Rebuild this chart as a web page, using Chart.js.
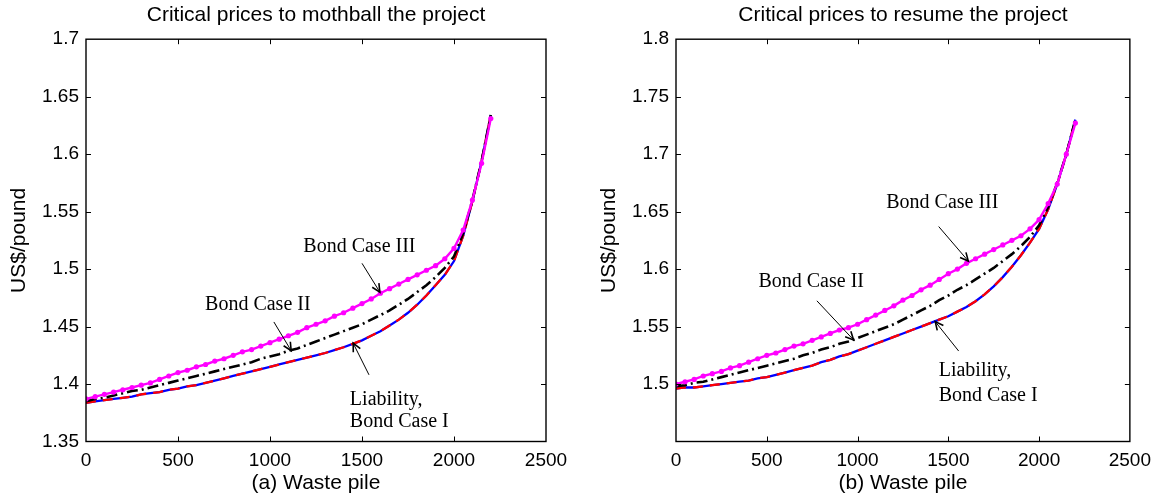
<!DOCTYPE html>
<html>
<head>
<meta charset="utf-8">
<script src="https://cdn.jsdelivr.net/npm/chart.js@4.4.1/dist/chart.umd.min.js"></script>
<style>
  body { margin: 0; background: #fff; }
  #wrap { position: relative; width: 1159px; height: 500px; }
  .box { position: absolute; top: 0; height: 500px; }
</style>
</head>
<body>
<div id="wrap">
  <div class="box" style="left:0;width:580px"><canvas id="mothball"></canvas></div>
  <div class="box" style="left:580px;width:579px"><canvas id="resume"></canvas></div>
</div>
<script>
// waste pile (x values, every 50)
const wastePile = [0, 50, 100, 150, 200, 250, 300, 350, 400, 450, 500, 550, 600, 650, 700, 750, 800, 850, 900, 950,
  1000, 1050, 1100, 1150, 1200, 1250, 1300, 1350, 1400, 1450, 1500, 1550, 1600, 1650, 1700, 1750, 1800, 1850, 1900, 1950,
  2000, 2050, 2100, 2150, 2200];

// (a) critical prices to mothball
const mothballLiability = [1.3835, 1.385, 1.386, 1.387, 1.388, 1.389, 1.391, 1.392, 1.393, 1.395, 1.396, 1.398, 1.399, 1.401, 1.403, 1.405, 1.407, 1.409, 1.411, 1.413,
  1.415, 1.417, 1.419, 1.421, 1.423, 1.425, 1.427, 1.4295, 1.432, 1.435, 1.438, 1.442, 1.446, 1.451, 1.456, 1.462, 1.469, 1.477, 1.486, 1.495,
  1.507, 1.529, 1.559, 1.594, 1.634];
const mothballBondI = mothballLiability;
const mothballBondII = [1.385, 1.387, 1.388, 1.390, 1.392, 1.394, 1.395, 1.397, 1.399, 1.401, 1.403, 1.405, 1.407, 1.409, 1.411, 1.413, 1.415, 1.417, 1.419, 1.422,
  1.424, 1.426, 1.429, 1.431, 1.434, 1.437, 1.440, 1.443, 1.446, 1.449, 1.452, 1.456, 1.460, 1.464, 1.469, 1.474, 1.480, 1.486, 1.493, 1.501,
  1.511, 1.531, 1.560, 1.594, 1.634];
const mothballBondIII = [1.387, 1.389, 1.391, 1.393, 1.395, 1.397, 1.399, 1.401, 1.404, 1.407, 1.410, 1.412, 1.415, 1.417, 1.420, 1.422, 1.425, 1.428, 1.430, 1.433,
  1.436, 1.439, 1.442, 1.445, 1.449, 1.452, 1.455, 1.459, 1.462, 1.466, 1.470, 1.474, 1.479, 1.483, 1.487, 1.491, 1.495, 1.499, 1.503, 1.509,
  1.518, 1.534, 1.560, 1.592, 1.631];

// (b) critical prices to resume
const resumeLiability = [1.496, 1.497, 1.497, 1.498, 1.499, 1.500, 1.501, 1.502, 1.503, 1.505, 1.506, 1.508, 1.510, 1.512, 1.514, 1.516, 1.519, 1.521, 1.524, 1.526,
  1.529, 1.532, 1.535, 1.538, 1.541, 1.544, 1.547, 1.550, 1.553, 1.556, 1.559, 1.563, 1.567, 1.572, 1.578, 1.585, 1.593, 1.602, 1.612, 1.623,
  1.635, 1.652, 1.674, 1.700, 1.730];
const resumeBondI = resumeLiability;
const resumeBondII = [1.498, 1.499, 1.501, 1.502, 1.504, 1.506, 1.508, 1.510, 1.512, 1.514, 1.516, 1.518, 1.520, 1.522, 1.525, 1.527, 1.530, 1.532, 1.535, 1.537,
  1.540, 1.543, 1.546, 1.549, 1.552, 1.556, 1.560, 1.564, 1.568, 1.573, 1.577, 1.582, 1.586, 1.591, 1.596, 1.601, 1.607, 1.613, 1.620, 1.628,
  1.638, 1.654, 1.675, 1.700, 1.730];
const resumeBondIII = [1.500, 1.502, 1.504, 1.507, 1.509, 1.511, 1.514, 1.516, 1.519, 1.522, 1.525, 1.527, 1.530, 1.533, 1.535, 1.538, 1.541, 1.544, 1.547, 1.549,
  1.552, 1.556, 1.560, 1.564, 1.568, 1.573, 1.577, 1.582, 1.586, 1.591, 1.596, 1.600, 1.605, 1.609, 1.613, 1.617, 1.621, 1.625, 1.629, 1.635,
  1.643, 1.657, 1.674, 1.700, 1.727];

// tick labels
const xTickLabels = ['0', '500', '1000', '1500', '2000', '2500'];
const yTicksMothball = ['1.35', '1.4', '1.45', '1.5', '1.55', '1.6', '1.65', '1.7'];
const yTicksResume = ['', '1.5', '1.55', '1.6', '1.65', '1.7', '1.75', '1.8'];

Chart.defaults.font.family = '"Liberation Sans", Arial, sans-serif';
Chart.defaults.color = '#000';

function pts(ys) {
  return wastePile.map((x, i) => ({x: x, y: ys[i]}));
}

// frame with inward ticks + text/arrow notes
const matlabBox = {
  id: 'matlabBox',
  afterDraw(chart, args, opts) {
    const {ctx, chartArea: a, scales} = chart;
    const xs = scales.x, ys = scales.y;
    ctx.save();
    ctx.strokeStyle = '#000';
    ctx.lineWidth = 1.4;
    ctx.strokeRect(a.left, a.top, a.right - a.left, a.bottom - a.top);
    ctx.lineWidth = 1;
    ctx.beginPath();
    xs.ticks.forEach(t => {
      const px = Math.round(xs.getPixelForValue(t.value)) + 0.5;
      if (px <= a.left + 1 || px >= a.right - 1) return;
      ctx.moveTo(px, a.bottom); ctx.lineTo(px, a.bottom - 5);
      ctx.moveTo(px, a.top); ctx.lineTo(px, a.top + 5);
    });
    ys.ticks.forEach(t => {
      const py = Math.round(ys.getPixelForValue(t.value)) + 0.5;
      if (py <= a.top + 1 || py >= a.bottom - 1) return;
      ctx.moveTo(a.left, py); ctx.lineTo(a.left + 5, py);
      ctx.moveTo(a.right, py); ctx.lineTo(a.right - 5, py);
    });
    ctx.stroke();

    // notes
    ctx.fillStyle = '#000';
    ctx.font = '20px "Liberation Serif", "Times New Roman", serif';
    ctx.textAlign = 'left';
    ctx.textBaseline = 'middle';
    (opts.notes || []).forEach(n => {
      ctx.fillText(n.text, xs.getPixelForValue(n.x), ys.getPixelForValue(n.y));
    });
    (opts.arrows || []).forEach(ar => {
      const x0 = xs.getPixelForValue(ar.from[0]), y0 = ys.getPixelForValue(ar.from[1]);
      const x1 = xs.getPixelForValue(ar.to[0]), y1 = ys.getPixelForValue(ar.to[1]);
      const ang = Math.atan2(y1 - y0, x1 - x0);
      ctx.lineWidth = 1;
      ctx.beginPath();
      ctx.moveTo(x0, y0); ctx.lineTo(x1, y1);
      ctx.stroke();
      ctx.lineWidth = 1.6;
      ctx.beginPath();
      ctx.moveTo(x1 - 9 * Math.cos(ang - 0.45), y1 - 9 * Math.sin(ang - 0.45));
      ctx.lineTo(x1, y1);
      ctx.lineTo(x1 - 9 * Math.cos(ang + 0.45), y1 - 9 * Math.sin(ang + 0.45));
      ctx.stroke();
    });
    ctx.restore();
  }
};

function makeChart(id, cfg) {
  return new Chart(document.getElementById(id), {
    type: 'line',
    data: {
      datasets: [
        {label: 'Bond Case III', data: pts(cfg.bondIII), borderColor: '#ff00ff', backgroundColor: '#ff00ff',
          borderWidth: 2.4, pointRadius: 2.6, pointBorderWidth: 0, pointBackgroundColor: '#ff00ff'},
        {label: 'Bond Case II', data: pts(cfg.bondII), borderColor: '#000', borderWidth: 2.6,
          borderDash: [11, 4, 2, 4], pointRadius: 0},
        {label: 'Bond Case I', data: pts(cfg.bondI), borderColor: '#ff0000', borderWidth: 2.3,
          borderDash: [10, 7], pointRadius: 0},
        {label: 'Liability', data: pts(cfg.liability), borderColor: '#0000ff', borderWidth: 2.3, pointRadius: 0}
      ]
    },
    options: {
      responsive: true,
      maintainAspectRatio: false,
      animation: false,
      layout: {padding: {left: 0, right: cfg.padRight, top: 0, bottom: 0}},
      plugins: {
        legend: {display: false},
        tooltip: {enabled: false},
        title: {display: true, text: cfg.title, fullSize: false, color: '#000',
          font: {size: 21, weight: 'normal'}, padding: {top: 3, bottom: 11}},
        matlabBox: {notes: cfg.notes, arrows: cfg.arrows}
      },
      scales: {
        x: {
          type: 'linear', min: 0, max: 2500,
          afterFit: s => { s.height = 58.5; },
          grid: {display: false, drawTicks: false},
          border: {display: false},
          ticks: {stepSize: 500, padding: 8, font: {size: 19}, maxRotation: 0,
            callback: (v, i) => xTickLabels[i]},
          title: {display: true, text: cfg.xTitle, font: {size: 21}, padding: {top: 0, bottom: 4}}
        },
        y: {
          type: 'linear', min: cfg.yMin, max: cfg.yMax,
          afterFit: s => { s.width = cfg.yWidth; },
          grid: {display: false, drawTicks: false},
          border: {display: false},
          ticks: {stepSize: 0.05, padding: 7, font: {size: 19},
            callback: (v, i) => cfg.yLabels[i]},
          title: {display: true, text: 'US$/pound', font: {size: 21}, padding: {top: cfg.yTitlePad, bottom: 0}}
        }
      }
    },
    plugins: [matlabBox]
  });
}

makeChart('mothball', {
  title: 'Critical prices to mothball the project',
  xTitle: '(a) Waste pile',
  liability: mothballLiability, bondI: mothballBondI, bondII: mothballBondII, bondIII: mothballBondIII,
  yMin: 1.35, yMax: 1.7, yLabels: yTicksMothball,
  yWidth: 86, padRight: 34, yTitlePad: 7,
  notes: [
    {text: 'Bond Case III', x: 1181, y: 1.519},
    {text: 'Bond Case II', x: 647, y: 1.469},
    {text: 'Liability,', x: 1434, y: 1.386},
    {text: 'Bond Case I', x: 1434, y: 1.367}
  ],
  arrows: [
    {from: [1500, 1.505], to: [1597, 1.480]},
    {from: [1021, 1.454], to: [1115, 1.429]},
    {from: [1538, 1.408], to: [1452, 1.4355]}
  ]
});

makeChart('resume', {
  title: 'Critical prices to resume the project',
  xTitle: '(b) Waste pile',
  liability: resumeLiability, bondI: resumeBondI, bondII: resumeBondII, bondIII: resumeBondIII,
  yMin: 1.45, yMax: 1.8, yLabels: yTicksResume,
  yWidth: 96, padRight: 29, yTitlePad: 17,
  notes: [
    {text: 'Bond Case III', x: 1158, y: 1.658},
    {text: 'Bond Case II', x: 454, y: 1.589},
    {text: 'Liability,', x: 1447, y: 1.5114},
    {text: 'Bond Case I', x: 1447, y: 1.4895}
  ],
  arrows: [
    {from: [1447, 1.637], to: [1610, 1.607]},
    {from: [776, 1.5724], to: [978, 1.5384]},
    {from: [1557, 1.5287], to: [1428, 1.5543]}
  ]
});
</script>
</body>
</html>
